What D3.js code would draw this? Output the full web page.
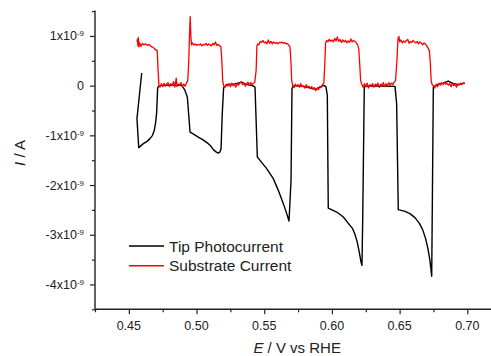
<!DOCTYPE html>
<html><head><meta charset="utf-8">
<script src="https://cdn.jsdelivr.net/npm/d3@7"></script>
<style>
html,body{margin:0;padding:0;background:#fff;}
svg{display:block;font-family:"Liberation Sans",Arial,sans-serif;}
</style></head>
<body><svg id="c" width="491" height="356"></svg>
<script>
// ---- data (current in units of 1e-9 A, potential in V vs RHE) ----
const tipE = [0.4595,0.4560,0.4573,0.4607,0.4634,0.4656,0.4675,0.4688,0.4697,0.4705,0.4709,0.4713,0.4723,0.4743,0.4804,0.4890,0.4912,0.4932,0.4952,0.4981,0.5013,0.5048,0.5087,0.5107,0.5124,0.5144,0.5161,0.5173,0.5181,0.5190,0.5200,0.5223,0.5284,0.5333,0.5365,0.5419,0.5432,0.5449,0.5469,0.5518,0.5567,0.5604,0.5641,0.5666,0.5683,0.5698,0.5705,0.5715,0.5764,0.5838,0.5882,0.5912,0.5941,0.5956,0.5966,0.5973,0.6035,0.6084,0.6133,0.6153,0.6170,0.6187,0.6202,0.6215,0.6222,0.6228,0.6239,0.6251,0.6355,0.6466,0.6478,0.6490,0.6540,0.6576,0.6613,0.6645,0.6670,0.6692,0.6709,0.6722,0.6731,0.6737,0.6749,0.6786,0.6823,0.6859,0.6896,0.6933,0.6983];
const tipI = [0.254,-0.664,-1.247,-1.167,-1.121,-1.066,-1.000,-0.899,-0.759,-0.557,-0.296,-0.040,-0.004,0.006,0.010,0.006,-0.080,-0.229,-0.934,-0.980,-1.034,-1.091,-1.167,-1.221,-1.288,-1.332,-1.356,-1.335,-1.268,-0.563,-0.040,0.020,0.036,0.072,0.026,-0.004,-0.034,-1.437,-1.503,-1.670,-1.871,-2.107,-2.374,-2.575,-2.724,-1.905,-0.060,-0.004,-0.004,-0.044,-0.074,-0.024,0.006,-0.024,-0.195,-2.463,-2.543,-2.644,-2.811,-2.877,-2.992,-3.147,-3.348,-3.549,-3.616,-2.569,-0.028,-0.008,-0.008,-0.014,-0.362,-2.495,-2.529,-2.575,-2.656,-2.765,-2.897,-3.078,-3.280,-3.481,-3.682,-3.837,-0.028,0.026,0.052,0.093,0.040,0.026,0.052];

const subE = [0.4560,0.4563,0.4567,0.4570,0.4575,0.4580,0.4590,0.4600,0.4610,0.4620,0.4630,0.4640,0.4650,0.4660,0.4670,0.4680,0.4690,0.4700,0.4710,0.4716,0.4722,0.4730,0.4740,0.4750,0.4760,0.4770,0.4780,0.4790,0.4800,0.4810,0.4820,0.4830,0.4840,0.4850,0.4856,0.4865,0.4875,0.4885,0.4895,0.4905,0.4915,0.4925,0.4935,0.4942,0.4948,0.4953,0.4958,0.4963,0.4970,0.4980,0.4990,0.5000,0.5010,0.5020,0.5030,0.5040,0.5050,0.5060,0.5070,0.5080,0.5090,0.5100,0.5110,0.5120,0.5130,0.5140,0.5150,0.5160,0.5170,0.5180,0.5187,0.5193,0.5200,0.5210,0.5220,0.5230,0.5240,0.5250,0.5260,0.5270,0.5280,0.5290,0.5300,0.5310,0.5320,0.5330,0.5340,0.5350,0.5360,0.5370,0.5380,0.5390,0.5400,0.5410,0.5420,0.5430,0.5440,0.5446,0.5452,0.5460,0.5470,0.5480,0.5490,0.5500,0.5510,0.5520,0.5530,0.5540,0.5550,0.5560,0.5570,0.5580,0.5590,0.5600,0.5610,0.5620,0.5630,0.5640,0.5650,0.5660,0.5670,0.5680,0.5690,0.5697,0.5703,0.5710,0.5720,0.5730,0.5740,0.5750,0.5760,0.5770,0.5780,0.5790,0.5800,0.5810,0.5820,0.5830,0.5840,0.5850,0.5860,0.5870,0.5880,0.5890,0.5900,0.5910,0.5920,0.5930,0.5940,0.5947,0.5953,0.5960,0.5970,0.5980,0.5990,0.6000,0.6010,0.6020,0.6030,0.6040,0.6050,0.6060,0.6070,0.6080,0.6090,0.6100,0.6110,0.6120,0.6130,0.6140,0.6150,0.6160,0.6170,0.6180,0.6190,0.6198,0.6205,0.6212,0.6220,0.6230,0.6240,0.6250,0.6260,0.6270,0.6280,0.6290,0.6300,0.6310,0.6320,0.6330,0.6340,0.6350,0.6360,0.6370,0.6380,0.6390,0.6400,0.6410,0.6420,0.6430,0.6440,0.6450,0.6460,0.6470,0.6480,0.6488,0.6495,0.6500,0.6510,0.6520,0.6530,0.6540,0.6550,0.6560,0.6570,0.6580,0.6590,0.6600,0.6610,0.6620,0.6630,0.6640,0.6650,0.6660,0.6670,0.6680,0.6690,0.6700,0.6710,0.6720,0.6727,0.6733,0.6740,0.6750,0.6760,0.6770,0.6780,0.6790,0.6800,0.6810,0.6820,0.6830,0.6840,0.6850,0.6860,0.6870,0.6880,0.6890,0.6900,0.6910,0.6920,0.6930,0.6940,0.6950,0.6960,0.6970,0.6980];
const subI = [0.88,0.93,0.80,0.97,0.78,0.86,0.79,0.85,0.82,0.84,0.83,0.81,0.83,0.80,0.78,0.77,0.74,0.72,0.70,0.30,0.02,-0.03,0.04,-0.02,0.05,-0.01,0.03,0.06,-0.02,0.04,0.00,0.08,-0.03,0.15,-0.02,0.03,0.01,0.06,-0.02,0.03,-0.01,0.05,0.10,0.45,1.00,1.39,1.00,0.82,0.86,0.82,0.84,0.81,0.83,0.82,0.84,0.80,0.83,0.82,0.85,0.81,0.84,0.82,0.80,0.85,0.82,0.88,0.81,0.83,0.80,0.78,0.50,0.10,0.00,-0.04,0.03,-0.01,0.04,-0.02,0.05,0.00,0.03,-0.03,0.04,0.01,0.05,0.08,0.02,0.05,-0.01,0.04,0.07,0.01,0.06,0.02,0.05,0.07,0.30,0.80,0.84,0.82,0.89,0.87,0.91,0.86,0.88,0.84,0.92,0.85,0.89,0.84,0.88,0.85,0.87,0.84,0.87,0.86,0.88,0.85,0.87,0.84,0.85,0.82,0.78,0.50,0.10,0.01,-0.04,0.03,-0.01,0.02,-0.03,0.04,-0.02,0.00,-0.05,0.02,-0.04,-0.01,-0.06,-0.02,-0.07,-0.04,-0.10,-0.05,-0.08,-0.02,-0.04,0.02,0.05,0.40,0.85,0.91,0.88,0.93,0.89,0.92,0.88,0.95,0.90,0.98,0.89,0.93,0.87,0.92,0.88,0.91,0.86,0.90,0.87,0.94,0.88,0.91,0.89,0.86,0.82,0.75,0.45,0.10,0.03,-0.03,0.04,-0.02,0.05,-0.05,0.02,-0.01,0.04,-0.03,0.03,0.00,0.05,-0.04,0.03,0.01,0.06,-0.02,0.04,0.00,0.06,0.01,0.05,0.02,0.07,0.10,0.50,0.95,0.99,0.88,0.92,0.86,0.90,0.87,0.91,0.93,0.85,0.89,0.87,0.91,0.88,0.86,0.89,0.84,0.88,0.86,0.82,0.86,0.84,0.80,0.76,0.70,0.45,0.10,0.02,0.00,-0.05,0.03,-0.02,0.05,0.01,0.06,0.02,0.07,0.03,0.05,0.01,0.04,-0.02,0.05,0.00,0.04,-0.03,0.03,0.01,0.05,0.02,0.06,0.03];

const seriesNames = ["Tip Photocurrent","Substrate Current"];
const seriesColors = ["#000000","#ff0000"];

const xTicks = [0.45,0.50,0.55,0.60,0.65,0.70];
const xTickLabels = ["0.45","0.50","0.55","0.60","0.65","0.70"];
const xMinor = [0.425,0.475,0.525,0.575,0.625,0.675];
const yTicks = [1,0,-1,-2,-3,-4];
const yTickMantissa = ["1x10","0","-1x10","-2x10","-3x10","-4x10"];
const yTickExp = ["-9","","-9","-9","-9","-9"];
const yMinor = [1.5,0.5,-0.5,-1.5,-2.5,-3.5,-4.5];

// ---- layout ----
const svg = d3.select("#c");
const X0 = 95, X1 = 491, Y0 = 309.3, Y1 = 11.1;
const x = d3.scaleLinear().domain([0.425, 0.7175]).range([X0, X1]);
const y = d3.scaleLinear().domain([-4.5, 1.5]).range([Y0, Y1]);
const axisColor = "#222";

// lines
const line = d3.line().x(d => x(d[0])).y(d => y(d[1]));
const tipData = tipE.map((e,i) => [e, tipI[i]]);
const subData = subE.map((e,i) => [e, subI[i]]);
svg.append("path").datum(tipData).attr("d", line)
  .attr("fill","none").attr("stroke",seriesColors[0]).attr("stroke-width",1.4).attr("stroke-linejoin","round");
svg.append("path").datum(subData).attr("d", line)
  .attr("fill","none").attr("stroke",seriesColors[1]).attr("stroke-width",1.3).attr("stroke-linejoin","round");

// axes
const gx = svg.append("g").attr("transform",`translate(0,${Y0})`);
gx.call(d3.axisBottom(x).tickValues(xTicks).tickSize(5).tickFormat(""));
const gxm = svg.append("g").attr("transform",`translate(0,${Y0})`);
gxm.call(d3.axisBottom(x).tickValues(xMinor).tickSize(3).tickFormat(""));
[gx,gxm].forEach(g => { g.select(".domain").remove(); g.selectAll("line").attr("stroke",axisColor).attr("stroke-width",1.2); });
svg.append("line").attr("x1",X0).attr("x2",X1).attr("y1",Y0).attr("y2",Y0).attr("stroke",axisColor).attr("stroke-width",1.4);

const gy = svg.append("g").attr("transform",`translate(${X0},0)`);
gy.call(d3.axisLeft(y).tickValues(yTicks).tickSize(5).tickFormat(""));
const gym = svg.append("g").attr("transform",`translate(${X0},0)`);
gym.call(d3.axisLeft(y).tickValues(yMinor).tickSize(3).tickFormat(""));
[gy,gym].forEach(g => { g.select(".domain").remove(); g.selectAll("line").attr("stroke",axisColor).attr("stroke-width",1.2); });
svg.append("line").attr("x1",X0).attr("x2",X0).attr("y1",Y1-0.5).attr("y2",Y0).attr("stroke",axisColor).attr("stroke-width",1.4);

// tick labels
svg.append("g").selectAll("text").data(xTicks).join("text")
  .attr("x", d => x(d)).attr("y", Y0 + 21)
  .attr("text-anchor","middle").attr("font-size",12.5).attr("fill","#222")
  .text((d,i) => xTickLabels[i]);

const yl = svg.append("g").selectAll("text").data(yTicks).join("text")
  .attr("x", X0 - 11).attr("y", d => y(d) + 4.5)
  .attr("text-anchor","end").attr("font-size",12.5).attr("fill","#222");
yl.each(function(d,i){
  const t = d3.select(this);
  t.append("tspan").text(yTickMantissa[i]);
  if (yTickExp[i]) t.append("tspan").attr("dy",-4).attr("font-size",8).text(yTickExp[i]);
});

// axis titles
const xt = svg.append("text").attr("x", (252.7+341.7)/2).attr("y", 353)
  .attr("text-anchor","middle").attr("font-size",15).attr("fill","#222");
xt.append("tspan").attr("font-style","italic").text("E");
xt.append("tspan").text(" / V vs RHE");

const yt = svg.append("text").attr("transform","translate(25,153) rotate(-90)")
  .attr("text-anchor","middle").attr("font-size",15).attr("fill","#222");
yt.append("tspan").attr("font-style","italic").text("I");
yt.append("tspan").text(" / A");

// legend
const leg = svg.append("g");
seriesNames.forEach((n,i) => {
  const ly = 246 + i*19.7;
  leg.append("line").attr("x1",129).attr("x2",164).attr("y1",ly).attr("y2",ly)
    .attr("stroke",seriesColors[i]).attr("stroke-width",1.4);
  leg.append("text").attr("x",169).attr("y",ly+5.5).attr("font-size",15.5).attr("fill","#222").text(n);
});
</script></body></html>
